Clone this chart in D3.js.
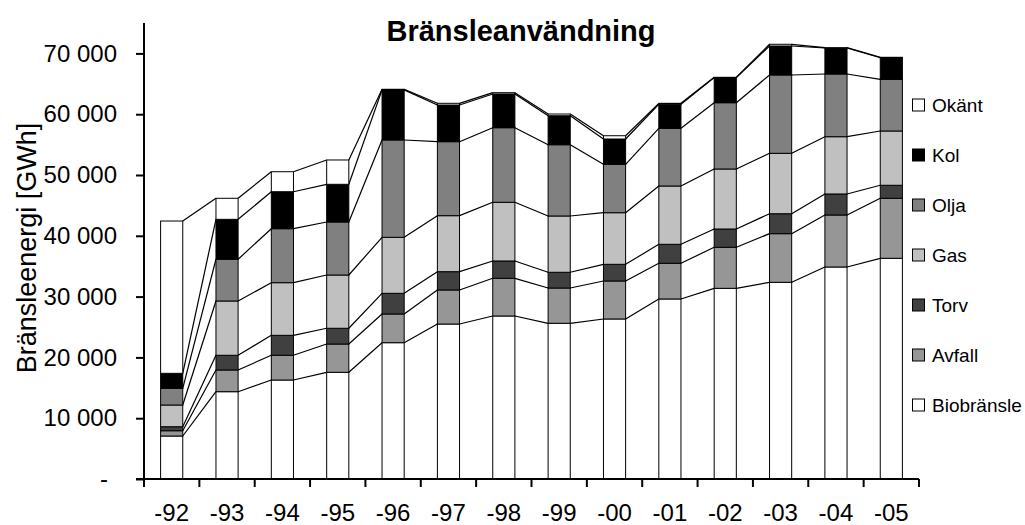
<!DOCTYPE html>
<html>
<head>
<meta charset="utf-8">
<script src="https://cdn.jsdelivr.net/npm/d3@7"></script>
<style>
  body { margin: 0; background: #fff; }
  svg { display: block; font-family: Arial, "Liberation Sans", sans-serif; }
</style>
</head>
<body>
<div id="chart"></div>
<script>
// Years on the x axis
const years = ['-92', '-93', '-94', '-95', '-96', '-97', '-98', '-99', '-00', '-01', '-02', '-03', '-04', '-05'];

// Fuel use per year, GWh
const biobransle = [7070, 14360, 16280, 17550, 22420, 25490, 26810, 25610, 26320, 29610, 31360, 32350, 34870, 36300];
const avfall     = [870, 3570, 4070, 4650, 4720, 5600, 6200, 5800, 6250, 5870, 6750, 8000, 8550, 9870];
const torv       = [660, 2420, 3280, 2590, 3400, 3010, 2850, 2590, 2740, 3120, 3010, 3280, 3460, 2140];
const gas        = [3570, 8930, 8660, 8760, 9210, 9210, 9650, 9260, 8490, 9590, 9870, 9940, 9420, 8930];
const olja       = [2750, 6860, 8880, 8720, 16010, 12170, 12270, 11720, 7960, 9490, 10900, 12880, 10310, 8500];
const kol        = [2460, 6570, 6080, 6200, 8240, 6030, 5540, 4770, 4160, 3950, 4130, 4770, 4280, 3570];
const okant      = [25050, 3460, 3290, 4000, 100, 280, 220, 280, 540, 160, 50, 280, 50, 50];

const seriesNames = ['Biobränsle', 'Avfall', 'Torv', 'Gas', 'Olja', 'Kol', 'Okänt'];
const yTicks = [0, 10000, 20000, 30000, 40000, 50000, 60000, 70000];

const colors = {
  'Biobränsle': '#ffffff',
  'Avfall': '#969696',
  'Torv': '#404040',
  'Gas': '#c0c0c0',
  'Olja': '#808080',
  'Kol': '#000000',
  'Okänt': '#ffffff'
};

// build rows for d3.stack
const cols = [biobransle, avfall, torv, gas, olja, kol, okant];
const rows = years.map(function(yr, i) {
  let r = { year: yr };
  seriesNames.forEach(function(s, k) { r[s] = cols[k][i]; });
  return r;
});

const W = 1025, H = 525;
const plotLeft = 144, plotRight = 919, plotTop = 23, plotBottom = 479;

let svg = d3.select('#chart').append('svg')
  .attr('width', W)
  .attr('height', H);

let x = d3.scaleBand()
  .domain(years)
  .range([plotLeft, plotRight])
  .paddingInner(0.6)
  .paddingOuter(0.3);

// plain categories, used for the boundary ticks
let xCat = d3.scaleBand()
  .domain(years)
  .range([plotLeft, plotRight]);

let y = d3.scaleLinear()
  .domain([0, 75000])
  .range([plotBottom, plotTop]);

let stacked = d3.stack().keys(seriesNames)(rows);

// series lines between neighbouring bars (top of each layer)
let bw = x.bandwidth();
let lineG = svg.append('g').attr('class', 'series-lines');
stacked.forEach(function(layer) {
  for (let i = 0; i < layer.length - 1; i++) {
    lineG.append('line')
      .attr('x1', x(years[i]) + bw)
      .attr('y1', y(layer[i][1]))
      .attr('x2', x(years[i + 1]))
      .attr('y2', y(layer[i + 1][1]))
      .attr('stroke', '#000')
      .attr('stroke-width', 1.2);
  }
});

// bars
svg.append('g').selectAll('g')
  .data(stacked)
  .enter().append('g')
    .attr('fill', function(d) { return colors[d.key]; })
  .selectAll('rect')
  .data(function(d) { return d; })
  .enter().append('rect')
    .attr('x', function(d) { return x(d.data.year); })
    .attr('y', function(d) { return y(d[1]); })
    .attr('width', bw)
    .attr('height', function(d) { return y(d[0]) - y(d[1]); })
    .attr('stroke', '#000')
    .attr('stroke-width', 1);

// y axis
let fmt = d3.format(',');
let yAxis = svg.append('g')
  .attr('transform', 'translate(' + plotLeft + ',0)')
  .call(d3.axisLeft(y)
    .tickValues(yTicks)
    .tickSize(8)
    .tickPadding(19)
    .tickFormat(function(d) { return d === 0 ? '-' : fmt(d).replace(/,/g, ' '); }));
yAxis.select('.domain').attr('d', 'M0,' + plotTop + 'V' + plotBottom).attr('stroke-width', 2);
yAxis.selectAll('.tick line').attr('stroke-width', 2);
yAxis.selectAll('.tick text')
  .attr('font-size', 24)
  .attr('fill', '#000')
  .attr('font-family', 'Arial, "Liberation Sans", sans-serif')
  .attr('dx', function(d) { return d === 0 ? -9 : 0; });

// x axis: labels at the centres, ticks on the category borders
let xAxis = svg.append('g')
  .attr('transform', 'translate(0,' + plotBottom + ')')
  .call(d3.axisBottom(x).tickSize(0).tickPadding(25));
xAxis.select('.domain').attr('d', 'M' + (plotLeft - 8) + ',0H' + plotRight).attr('stroke-width', 2);
xAxis.selectAll('.tick text')
  .attr('font-size', 24)
  .attr('fill', '#000')
  .attr('font-family', 'Arial, "Liberation Sans", sans-serif');

let borders = years.map(function(d) { return xCat(d); }).concat([xCat(years[years.length - 1]) + xCat.bandwidth()]);
xAxis.selectAll('.border')
  .data(borders)
  .enter().append('line')
    .attr('class', 'border')
    .attr('x1', function(d) { return d; })
    .attr('x2', function(d) { return d; })
    .attr('y1', 0)
    .attr('y2', 8)
    .attr('stroke', '#000')
    .attr('stroke-width', 2);

// title
svg.append('text')
  .attr('x', 521)
  .attr('y', 41)
  .attr('text-anchor', 'middle')
  .attr('font-size', 29)
  .attr('font-weight', 'bold')
  .text('Bränsleanvändning');

// y axis title
svg.append('text')
  .attr('transform', 'translate(36,248) rotate(-90)')
  .attr('text-anchor', 'middle')
  .attr('font-size', 27)
  .text('Bränsleenergi [GWh]');

// legend, top item is the last series
let legend = svg.append('g').attr('class', 'legend');
let legendItems = seriesNames.slice().reverse();
let ly = d3.scalePoint().domain(legendItems).range([105, 405]);
let li = legend.selectAll('g')
  .data(legendItems)
  .enter().append('g')
    .attr('transform', function(d) { return 'translate(912,' + ly(d) + ')'; });
li.append('rect')
  .attr('x', 0.5)
  .attr('y', -6)
  .attr('width', 12)
  .attr('height', 12)
  .attr('fill', function(d) { return colors[d]; })
  .attr('stroke', '#000')
  .attr('stroke-width', 1);
li.append('text')
  .attr('x', 20)
  .attr('dy', '0.36em')
  .attr('font-size', 19)
  .text(function(d) { return d; });
</script>
</body>
</html>
